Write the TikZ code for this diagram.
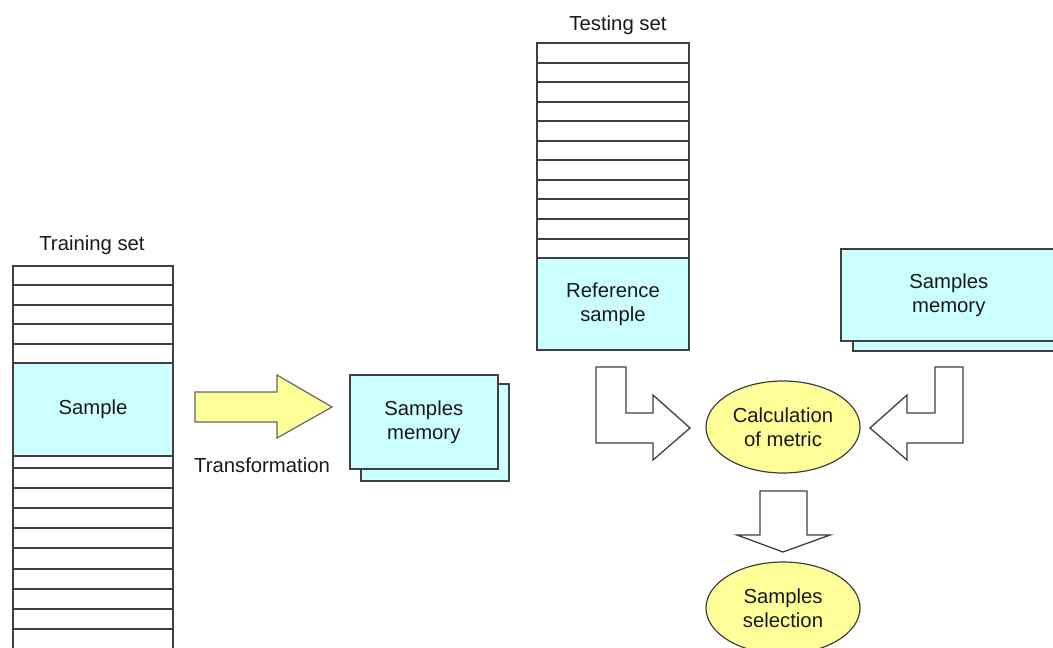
\documentclass[tikz,border=0pt]{standalone}
\usepackage{fontspec}
\setmainfont{Liberation Sans}
\usetikzlibrary{shapes.geometric}
\definecolor{cellfill}{HTML}{CCFFFF}
\definecolor{ovalfill}{HTML}{FFFF99}
\definecolor{edge}{HTML}{404040}
\definecolor{ink}{HTML}{1A1A1A}
\newcommand{\lbl}{\fontsize{20.3}{24}\selectfont}
\tikzset{
  cell/.style={draw=edge, line width=1.6pt, fill=white, minimum width=160pt,
    inner sep=0pt, outer sep=0pt, anchor=north west},
  keycell/.style={cell, fill=cellfill, text=ink, align=center, font=\lbl},
  memcard/.style={draw=edge, line width=1.5pt, fill=cellfill, inner sep=0pt,
    anchor=north west, text=ink, align=center, font=\lbl},
  oval/.style={ellipse, draw=edge, line width=1.2pt, fill=ovalfill, inner sep=0pt,
    minimum width=154pt, minimum height=92pt, text=ink, align=center, font=\lbl},
  caption/.style={text=ink, font=\lbl, inner sep=0pt},
  hollow/.style={draw=edge, line width=1.3pt, fill=white, line join=miter},
  solidarrow/.style={draw=edge!80, line width=1.2pt, fill=ovalfill, line join=miter}
}
\begin{document}
\begin{tikzpicture}[x=1pt,y=-1pt]
  \clip (0,0) rectangle (1053,648);
  \fill[white] (0,0) rectangle (1053,648);

  % training set column
  \node[caption] (traincap) at (92,245) {Training set};
  \foreach \i in {0,...,4}
    \node[cell, minimum height={round(266+19.4*(\i+1))-round(266+19.4*\i)}]
      (tra\i) at (13,{round(266+19.4*\i)}) {};
  \node[keycell, minimum height=93pt] (sample) at (13,363) {Sample};
  \node[cell, minimum height=12pt] (trb) at (13,456) {};
  \foreach \i in {0,...,8}
    \node[cell, minimum height={round(468+20.1*(\i+1))-round(468+20.1*\i)}]
      (trc\i) at (13,{round(468+20.1*\i)}) {};

  % transformation arrow
  \draw[solidarrow] (195,392) -- (277,392) -- (277,375) -- (332,407)
    -- (277,438) -- (277,422) -- (195,422) -- cycle;
  \node[caption] (transcap) at (262,465) {Transformation};

  % samples memory (stacked cards)
  \node[memcard, minimum width=148pt, minimum height=97pt] (memback) at (360,383) {};
  \node[memcard, minimum width=148pt, minimum height=94pt] (memfront) at (349,374) {Samples\\memory};

  % testing set column
  \node[caption] (testcap) at (618,25) {Testing set};
  \foreach \i in {0,...,10}
    \node[cell, minimum width=152pt,
      minimum height={round(43+19.55*(\i+1))-round(43+19.55*\i)}]
      (tst\i) at (537,{round(43+19.55*\i)}) {};
  \node[keycell, minimum width=152pt, minimum height=92pt] (refsample) at (537,258) {Reference\\sample};

  % samples memory on the right
  \node[memcard, minimum width=216pt, minimum height=92pt] (rmemback) at (852,258) {};
  \node[memcard, minimum width=216pt, minimum height=92pt] (rmemfront) at (840,248) {Samples\\memory};

  % metric and selection
  \node[oval] (calc) at (783,427) {Calculation\\of metric};
  \node[oval] (select) at (783,608) {Samples\\selection};

  % hollow block arrows
  \draw[hollow] (596,367) -- (626,367) -- (626,413) -- (653,413) -- (653,395)
    -- (690,428) -- (653,460) -- (653,443) -- (596,443) -- cycle;
  \draw[hollow] (963,367) -- (935,367) -- (935,413) -- (907,413) -- (907,395)
    -- (870,428) -- (907,460) -- (907,443) -- (963,443) -- cycle;
  \draw[hollow] (760,491) -- (807,491) -- (807,535) -- (830,535) -- (783,552)
    -- (737,535) -- (760,535) -- cycle;
\end{tikzpicture}
\end{document}
